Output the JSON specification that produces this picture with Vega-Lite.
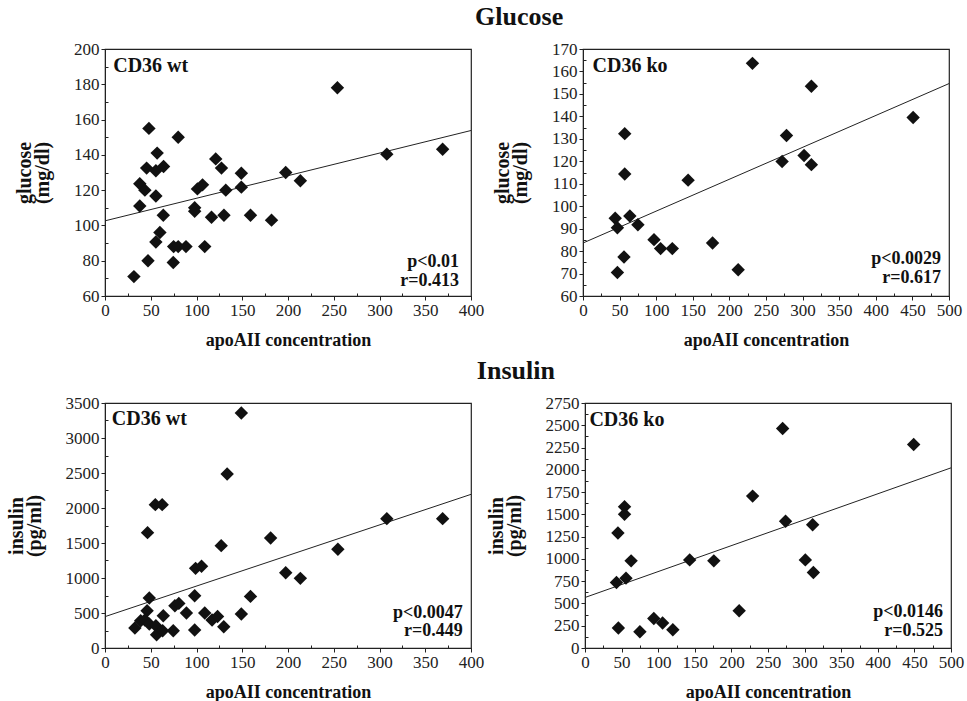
{
  "$schema": "https://vega.github.io/schema/vega-lite/v6.json",
  "background": "white",
  "padding": {"left": 5, "top": 4, "right": 2, "bottom": 0},
  "config": {
    "font": "Liberation Serif",
    "view": {"stroke": "#222", "strokeWidth": 1.2},
    "axis": {
      "grid": false,
      "domainColor": "#222",
      "tickColor": "#222",
      "labelColor": "#222",
      "labelFont": "Liberation Serif",
      "labelFontSize": 17,
      "labelOverlap": false,
      "labelBound": false,
      "labelFlush": false,
      "titleFont": "Liberation Serif",
      "titleFontWeight": "bold",
      "titleColor": "#111",
      "titleLineHeight": 18,
      "tickSize": 4,
      "labelPadding": 2
    },
    "axisX": {"titlePadding": 13, "titleFontSize": 18},
    "axisY": {"titlePadding": 21, "titleFontSize": 20},
    "title": {"font": "Liberation Serif", "fontSize": 26, "fontWeight": "bold", "color": "#111", "anchor": "middle", "offset": 9, "dx": 31}
  },
  "datasets": {
    "gwt": [
      {"apo": 31.6, "v": 71}, {"apo": 47, "v": 80}, {"apo": 38, "v": 111}, {"apo": 38, "v": 123.6},
      {"apo": 43.6, "v": 120}, {"apo": 48, "v": 155}, {"apo": 45.5, "v": 132.5}, {"apo": 55.6, "v": 131},
      {"apo": 64, "v": 133.4}, {"apo": 57, "v": 141}, {"apo": 55.6, "v": 116.7}, {"apo": 63.7, "v": 105.8},
      {"apo": 60, "v": 96}, {"apo": 55.6, "v": 90.6}, {"apo": 75, "v": 88}, {"apo": 80, "v": 88},
      {"apo": 88.5, "v": 88}, {"apo": 74.6, "v": 79}, {"apo": 80, "v": 150}, {"apo": 98, "v": 110},
      {"apo": 98, "v": 108}, {"apo": 101, "v": 120.7}, {"apo": 106.6, "v": 123}, {"apo": 109, "v": 88},
      {"apo": 116.4, "v": 104.6}, {"apo": 121, "v": 137.7}, {"apo": 127.3, "v": 132.5}, {"apo": 132, "v": 120},
      {"apo": 130, "v": 105.8}, {"apo": 149, "v": 129.6}, {"apo": 149, "v": 121.7}, {"apo": 159, "v": 105.8},
      {"apo": 182, "v": 103}, {"apo": 197.5, "v": 130}, {"apo": 213.5, "v": 125.3}, {"apo": 254, "v": 178},
      {"apo": 308, "v": 140.4}, {"apo": 369, "v": 143.2}
    ],
    "gko": [
      {"apo": 231.5, "v": 163.6}, {"apo": 312, "v": 153.4}, {"apo": 451, "v": 139.5}, {"apo": 57, "v": 132.3},
      {"apo": 278, "v": 131.5}, {"apo": 57, "v": 114.3}, {"apo": 143.6, "v": 111.6}, {"apo": 272, "v": 119.9},
      {"apo": 302, "v": 122.6}, {"apo": 312, "v": 118.5}, {"apo": 44, "v": 94.6}, {"apo": 47, "v": 90.4},
      {"apo": 64, "v": 95.6}, {"apo": 75, "v": 91.7}, {"apo": 97, "v": 85.1}, {"apo": 106, "v": 81.1},
      {"apo": 122, "v": 81.1}, {"apo": 177, "v": 83.6}, {"apo": 56, "v": 77.4}, {"apo": 47, "v": 70.5},
      {"apo": 212, "v": 71.7}
    ],
    "iwt": [
      {"apo": 149, "v": 3357}, {"apo": 133.5, "v": 2486}, {"apo": 55, "v": 2048}, {"apo": 62.5, "v": 2048},
      {"apo": 46.5, "v": 1648}, {"apo": 127, "v": 1462}, {"apo": 181, "v": 1571}, {"apo": 254.5, "v": 1410},
      {"apo": 308, "v": 1848}, {"apo": 369, "v": 1848}, {"apo": 99, "v": 1138}, {"apo": 105.5, "v": 1167},
      {"apo": 197.5, "v": 1076}, {"apo": 213.5, "v": 995}, {"apo": 48.4, "v": 714}, {"apo": 46, "v": 533},
      {"apo": 39, "v": 390}, {"apo": 32.7, "v": 286}, {"apo": 43.6, "v": 400}, {"apo": 48.4, "v": 343},
      {"apo": 55.6, "v": 319}, {"apo": 56.4, "v": 190}, {"apo": 63, "v": 247}, {"apo": 63.7, "v": 461},
      {"apo": 74.6, "v": 247}, {"apo": 76.4, "v": 604}, {"apo": 80.7, "v": 637}, {"apo": 89, "v": 500},
      {"apo": 98, "v": 747}, {"apo": 98, "v": 257}, {"apo": 109, "v": 500}, {"apo": 117, "v": 400},
      {"apo": 123, "v": 450}, {"apo": 129.8, "v": 304}, {"apo": 149, "v": 486}, {"apo": 159, "v": 737}
    ],
    "iko": [
      {"apo": 270, "v": 2463}, {"apo": 449, "v": 2284}, {"apo": 229, "v": 1705}, {"apo": 54, "v": 1586},
      {"apo": 54, "v": 1500}, {"apo": 45, "v": 1291}, {"apo": 274, "v": 1422}, {"apo": 311, "v": 1384},
      {"apo": 63, "v": 978}, {"apo": 143, "v": 989}, {"apo": 176, "v": 978}, {"apo": 301, "v": 989},
      {"apo": 312, "v": 847}, {"apo": 43, "v": 735}, {"apo": 56, "v": 784}, {"apo": 210.6, "v": 418},
      {"apo": 94, "v": 332}, {"apo": 106, "v": 280}, {"apo": 120, "v": 205}, {"apo": 45.6, "v": 224},
      {"apo": 75, "v": 183}
    ],
    "gwt_fit": [{"apo": 0, "v": 102.6}, {"apo": 400, "v": 153.8}],
    "gko_fit": [{"apo": 0, "v": 83.6}, {"apo": 500, "v": 154.6}],
    "iwt_fit": [{"apo": 0, "v": 448}, {"apo": 400, "v": 2195}],
    "iko_fit": [{"apo": 0, "v": 567}, {"apo": 500, "v": 2022}]
  },
  "vconcat": [
    {
      "title": "Glucose",
      "spacing": 6,
      "hconcat": [
        {
          "width": 366, "height": 247,
          "resolve": {"axis": {"x": "independent", "y": "independent"}},
          "layer": [
            {
              "data": {"name": "gwt_fit"},
              "mark": {"type": "line", "color": "#222", "strokeWidth": 1},
              "encoding": {
                "x": {"field": "apo", "type": "quantitative", "scale": {"domain": [0, 400], "nice": false}, "axis": {"orient": "bottom", "title": "apoAII concentration", "values": [0, 50, 100, 150, 200, 250, 300, 350, 400]}},
                "y": {"field": "v", "type": "quantitative", "scale": {"domain": [60, 200], "nice": false, "zero": false}, "axis": {"orient": "left", "title": ["glucose", "(mg/dl)"], "values": [60, 80, 100, 120, 140, 160, 180, 200]}}
              }
            },
            {
              "data": {"name": "gwt"},
              "mark": {"type": "point", "shape": "M-1,0L0,-1L1,0L0,1Z", "filled": true, "color": "#111", "opacity": 1, "size": 180},
              "encoding": {
                "x": {"field": "apo", "type": "quantitative", "axis": {"orient": "bottom", "title": null, "labels": false, "domain": false, "tickSize": -3, "values": [25, 75, 125, 175, 225, 275, 325, 375]}},
                "y": {"field": "v", "type": "quantitative", "axis": {"orient": "left", "title": null, "labels": false, "domain": false, "tickSize": -3, "values": [70, 90, 110, 130, 150, 170, 190]}}
              }
            },
            {
              "data": {"values": [{}]},
              "mark": {"type": "text", "text": "CD36 wt", "align": "left", "baseline": "middle", "fontSize": 20, "fontWeight": "bold", "color": "#111"},
              "encoding": {"x": {"datum": 9, "axis": null}, "y": {"datum": 190.5, "axis": null}}
            },
            {
              "data": {"values": [{}]},
              "mark": {"type": "text", "text": "p<0.01", "align": "right", "baseline": "middle", "fontSize": 18, "fontWeight": "bold", "color": "#111"},
              "encoding": {"x": {"datum": 387, "axis": null}, "y": {"datum": 79, "axis": null}}
            },
            {
              "data": {"values": [{}]},
              "mark": {"type": "text", "text": "r=0.413", "align": "right", "baseline": "middle", "fontSize": 18, "fontWeight": "bold", "color": "#111"},
              "encoding": {"x": {"datum": 387, "axis": null}, "y": {"datum": 68.6, "axis": null}}
            }
          ]
        },
        {
          "width": 366, "height": 247,
          "resolve": {"axis": {"x": "independent", "y": "independent"}},
          "layer": [
            {
              "data": {"name": "gko_fit"},
              "mark": {"type": "line", "color": "#222", "strokeWidth": 1},
              "encoding": {
                "x": {"field": "apo", "type": "quantitative", "scale": {"domain": [0, 500], "nice": false}, "axis": {"orient": "bottom", "title": "apoAII concentration", "values": [0, 50, 100, 150, 200, 250, 300, 350, 400, 450, 500]}},
                "y": {"field": "v", "type": "quantitative", "scale": {"domain": [60, 170], "nice": false, "zero": false}, "axis": {"orient": "left", "title": ["glucose", "(mg/dl)"], "values": [60, 70, 80, 90, 100, 110, 120, 130, 140, 150, 160, 170]}}
              }
            },
            {
              "data": {"name": "gko"},
              "mark": {"type": "point", "shape": "M-1,0L0,-1L1,0L0,1Z", "filled": true, "color": "#111", "opacity": 1, "size": 180},
              "encoding": {
                "x": {"field": "apo", "type": "quantitative", "axis": {"orient": "bottom", "title": null, "labels": false, "domain": false, "tickSize": -3, "values": [25, 75, 125, 175, 225, 275, 325, 375, 425, 475]}},
                "y": {"field": "v", "type": "quantitative", "axis": {"orient": "left", "title": null, "labels": false, "domain": false, "tickSize": -3, "values": [65, 75, 85, 95, 105, 115, 125, 135, 145, 155, 165]}}
              }
            },
            {
              "data": {"values": [{}]},
              "mark": {"type": "text", "text": "CD36 ko", "align": "left", "baseline": "middle", "fontSize": 20, "fontWeight": "bold", "color": "#111"},
              "encoding": {"x": {"datum": 13, "axis": null}, "y": {"datum": 162.4, "axis": null}}
            },
            {
              "data": {"values": [{}]},
              "mark": {"type": "text", "text": "p<0.0029", "align": "right", "baseline": "middle", "fontSize": 18, "fontWeight": "bold", "color": "#111"},
              "encoding": {"x": {"datum": 489, "axis": null}, "y": {"datum": 76.4, "axis": null}}
            },
            {
              "data": {"values": [{}]},
              "mark": {"type": "text", "text": "r=0.617", "align": "right", "baseline": "middle", "fontSize": 18, "fontWeight": "bold", "color": "#111"},
              "encoding": {"x": {"datum": 489, "axis": null}, "y": {"datum": 68, "axis": null}}
            }
          ]
        }
      ]
    },
    {
      "title": "Insulin",
      "spacing": 0,
      "hconcat": [
        {
          "width": 366, "height": 245,
          "resolve": {"axis": {"x": "independent", "y": "independent"}},
          "layer": [
            {
              "data": {"name": "iwt_fit"},
              "mark": {"type": "line", "color": "#222", "strokeWidth": 1},
              "encoding": {
                "x": {"field": "apo", "type": "quantitative", "scale": {"domain": [0, 400], "nice": false}, "axis": {"orient": "bottom", "title": "apoAII concentration", "values": [0, 50, 100, 150, 200, 250, 300, 350, 400]}},
                "y": {"field": "v", "type": "quantitative", "scale": {"domain": [0, 3500], "nice": false}, "axis": {"orient": "left", "title": ["insulin", "(pg/ml)"], "values": [0, 500, 1000, 1500, 2000, 2500, 3000, 3500], "format": "d"}}
              }
            },
            {
              "data": {"name": "iwt"},
              "mark": {"type": "point", "shape": "M-1,0L0,-1L1,0L0,1Z", "filled": true, "color": "#111", "opacity": 1, "size": 180},
              "encoding": {
                "x": {"field": "apo", "type": "quantitative", "axis": {"orient": "bottom", "title": null, "labels": false, "domain": false, "tickSize": -3, "values": [25, 75, 125, 175, 225, 275, 325, 375]}},
                "y": {"field": "v", "type": "quantitative", "axis": {"orient": "left", "title": null, "labels": false, "domain": false, "tickSize": -3, "values": [250, 750, 1250, 1750, 2250, 2750, 3250]}}
              }
            },
            {
              "data": {"values": [{}]},
              "mark": {"type": "text", "text": "CD36 wt", "align": "left", "baseline": "middle", "fontSize": 20, "fontWeight": "bold", "color": "#111"},
              "encoding": {"x": {"datum": 7.5, "axis": null}, "y": {"datum": 3276, "axis": null}}
            },
            {
              "data": {"values": [{}]},
              "mark": {"type": "text", "text": "p<0.0047", "align": "right", "baseline": "middle", "fontSize": 18, "fontWeight": "bold", "color": "#111"},
              "encoding": {"x": {"datum": 391, "axis": null}, "y": {"datum": 505, "axis": null}}
            },
            {
              "data": {"values": [{}]},
              "mark": {"type": "text", "text": "r=0.449", "align": "right", "baseline": "middle", "fontSize": 18, "fontWeight": "bold", "color": "#111"},
              "encoding": {"x": {"datum": 391, "axis": null}, "y": {"datum": 240, "axis": null}}
            }
          ]
        },
        {
          "width": 366, "height": 245,
          "resolve": {"axis": {"x": "independent", "y": "independent"}},
          "layer": [
            {
              "data": {"name": "iko_fit"},
              "mark": {"type": "line", "color": "#222", "strokeWidth": 1},
              "encoding": {
                "x": {"field": "apo", "type": "quantitative", "scale": {"domain": [0, 500], "nice": false}, "axis": {"orient": "bottom", "title": "apoAII concentration", "values": [0, 50, 100, 150, 200, 250, 300, 350, 400, 450, 500]}},
                "y": {"field": "v", "type": "quantitative", "scale": {"domain": [0, 2750], "nice": false}, "axis": {"orient": "left", "title": ["insulin", "(pg/ml)"], "values": [0, 250, 500, 750, 1000, 1250, 1500, 1750, 2000, 2250, 2500, 2750], "format": "d"}}
              }
            },
            {
              "data": {"name": "iko"},
              "mark": {"type": "point", "shape": "M-1,0L0,-1L1,0L0,1Z", "filled": true, "color": "#111", "opacity": 1, "size": 180},
              "encoding": {
                "x": {"field": "apo", "type": "quantitative", "axis": {"orient": "bottom", "title": null, "labels": false, "domain": false, "tickSize": -3, "values": [25, 75, 125, 175, 225, 275, 325, 375, 425, 475]}},
                "y": {"field": "v", "type": "quantitative", "axis": {"orient": "left", "title": null, "labels": false, "domain": false, "tickSize": -3, "values": [125, 375, 625, 875, 1125, 1375, 1625, 1875, 2125, 2375, 2625]}}
              }
            },
            {
              "data": {"values": [{}]},
              "mark": {"type": "text", "text": "CD36 ko", "align": "left", "baseline": "middle", "fontSize": 20, "fontWeight": "bold", "color": "#111"},
              "encoding": {"x": {"datum": 6, "axis": null}, "y": {"datum": 2556, "axis": null}}
            },
            {
              "data": {"values": [{}]},
              "mark": {"type": "text", "text": "p<0.0146", "align": "right", "baseline": "middle", "fontSize": 18, "fontWeight": "bold", "color": "#111"},
              "encoding": {"x": {"datum": 489, "axis": null}, "y": {"datum": 405, "axis": null}}
            },
            {
              "data": {"values": [{}]},
              "mark": {"type": "text", "text": "r=0.525", "align": "right", "baseline": "middle", "fontSize": 18, "fontWeight": "bold", "color": "#111"},
              "encoding": {"x": {"datum": 489, "axis": null}, "y": {"datum": 195, "axis": null}}
            }
          ]
        }
      ]
    }
  ],
  "spacing": 8
}
